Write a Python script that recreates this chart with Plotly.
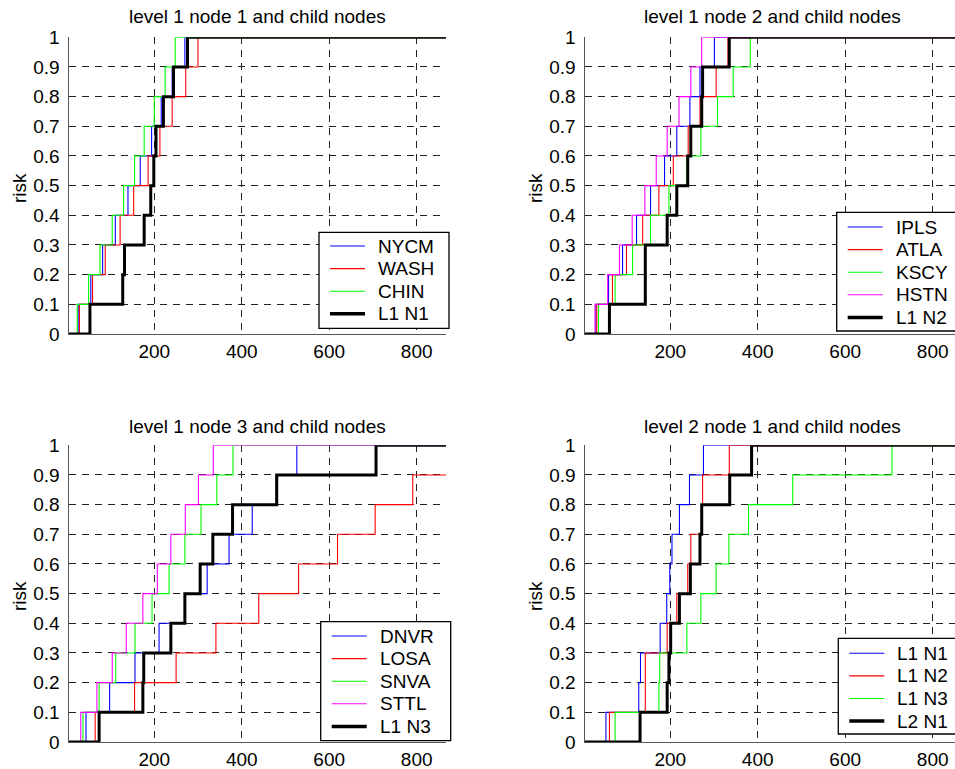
import plotly.graph_objects as go

# ---------------- data ----------------
LEVELS = [0.1, 0.2, 0.3, 0.4, 0.5, 0.6, 0.7, 0.8, 0.9, 1.0]
X_MIN = 4
X_MAX = 867

# x value at which each curve steps up to the next risk level (0.1 ... 1.0)
NYCM = [26, 55, 82, 111, 140, 168, 194, 216, 241, 270]
WASH = [29, 59, 88, 122, 153, 186, 213, 241, 272, 300]
CHIN = [24, 50, 76, 104, 130, 155, 177, 200, 225, 248]
L1N1 = [53, 128, 132, 177, 192, 199, 204, 221, 244, 276]

IPLS = [30, 59, 91, 123, 155, 187, 215, 245, 268, 301]
ATLA = [32, 68, 100, 137, 174, 207, 241, 268, 305, 332]
KSCY = [36, 74, 114, 155, 197, 238, 270, 308, 344, 383]
HSTN = [28, 57, 84, 113, 142, 168, 193, 220, 247, 272]
L1N2 = [61, 143, 143, 193, 215, 240, 247, 272, 274, 335]

DNVR = [44, 98, 156, 211, 270, 321, 371, 424, 479, 526]
LOSA = [65, 155, 250, 341, 439, 530, 619, 705, 791]
SNVA = [37, 74, 112, 156, 195, 234, 270, 307, 343, 380]
STTL = [32, 69, 104, 136, 174, 207, 238, 271, 301, 335]
L1N3 = [74, 174, 176, 238, 270, 305, 334, 379, 480, 707]

L2N1 = [131, 193, 197, 201, 221, 246, 268, 272, 336, 386]

Y_TICKS = [0, 0.1, 0.2, 0.3, 0.4, 0.5, 0.6, 0.7, 0.8, 0.9, 1]
Y_TICK_TEXT = ["0", "0.1", "0.2", "0.3", "0.4", "0.5", "0.6", "0.7", "0.8", "0.9", "1"]
X_TICKS = [200, 400, 600, 800]
X_TICK_TEXT = ["200", "400", "600", "800"]

TITLES = ["level 1 node 1 and child nodes", "level 1 node 2 and child nodes",
          "level 1 node 3 and child nodes", "level 2 node 1 and child nodes"]

PANELS = [
    [("NYCM", NYCM, "#0000ff"), ("WASH", WASH, "#ff0000"), ("CHIN", CHIN, "#00ff00"),
     ("L1 N1", L1N1, "#000000")],
    [("IPLS", IPLS, "#0000ff"), ("ATLA", ATLA, "#ff0000"), ("KSCY", KSCY, "#00ff00"),
     ("HSTN", HSTN, "#ff00ff"), ("L1 N2", L1N2, "#000000")],
    [("DNVR", DNVR, "#0000ff"), ("LOSA", LOSA, "#ff0000"), ("SNVA", SNVA, "#00ff00"),
     ("STTL", STTL, "#ff00ff"), ("L1 N3", L1N3, "#000000")],
    [("L1 N1", L1N1, "#0000ff"), ("L1 N2", L1N2, "#ff0000"), ("L1 N3", L1N3, "#00ff00"),
     ("L2 N1", L2N1, "#000000")],
]

# ---------------- layout geometry (pixels) ----------------
W, H = 955, 769
FONT = "Liberation Sans, Arial, Helvetica, sans-serif"
FS = 19

# plot areas: (left, right, top, bottom) in px
AREAS = [(68.5, 446.0, 37.3, 334.0), (584.5, 955.0, 37.3, 334.0),
         (68.5, 446.0, 445.3, 742.0), (584.5, 955.0, 445.3, 742.0)]
X_RANGES = [[X_MIN, X_MAX], [X_MIN, X_MIN + (955.0 - 584.5) / 0.4374],
            [X_MIN, X_MAX], [X_MIN, X_MIN + (955.0 - 584.5) / 0.4374]]
TITLE_X = [257, 772, 257, 772]
TITLE_Y = [16.5, 16.5, 426, 426]
RISK_X = [19, 535, 19, 535]
RISK_Y = [188, 188, 596, 596]
# legend boxes: (left, top, bottom, first-entry centre) in px
LEG_BOX = [(319, 232.3, 328.3, 246.0), (836.7, 212.3, 331.0, 227.0),
           (320.7, 621.7, 740.7, 636.0), (838.3, 638.3, 734.0, 653.3)]
LEG_W = 130
LEG_STEP = 22.6

fig = go.Figure()

for i, series in enumerate(PANELS):
    sfx = "" if i == 0 else str(i + 1)
    for name, steps, color in series:
        xs = [X_MIN] + list(steps) + [X_MAX]
        ys = [0] + LEVELS[:len(steps)] + [LEVELS[len(steps) - 1]]
        fig.add_trace(go.Scatter(
            x=xs, y=ys, mode="lines", name=name, showlegend=False,
            line=dict(color=color, width=3 if color == "#000000" else 1.1, shape="hv"),
            xaxis="x" + sfx, yaxis="y" + sfx, hoverinfo="skip"))

layout = dict(
    width=W, height=H, autosize=False,
    margin=dict(l=0, r=0, t=0, b=0, pad=0),
    paper_bgcolor="white", plot_bgcolor="white",
    font=dict(family=FONT, size=FS, color="black"),
    showlegend=False,
)

annotations = []
shapes = []
for i in range(4):
    sfx = "" if i == 0 else str(i + 1)
    l, r, t, b = AREAS[i]
    layout["xaxis" + sfx] = dict(
        domain=[l / W, r / W], range=X_RANGES[i], anchor="y" + sfx,
        tickmode="array", tickvals=X_TICKS, ticktext=X_TICK_TEXT,
        showgrid=True, gridcolor="#222222", gridwidth=1, griddash="7px,6px",
        showline=True, linecolor="#555555", linewidth=1,
        ticks="", ticklen=0, zeroline=False, ticklabelstandoff=0, automargin=False,
        tickfont=dict(family=FONT, size=FS, color="black"))
    layout["yaxis" + sfx] = dict(
        domain=[1 - b / H, 1 - t / H], range=[0, 1], anchor="x" + sfx,
        tickmode="array", tickvals=Y_TICKS, ticktext=Y_TICK_TEXT,
        showgrid=True, gridcolor="#222222", gridwidth=1, griddash="7px,6px",
        showline=True, linecolor="#555555", linewidth=1,
        ticks="", ticklen=0, zeroline=False, ticklabelstandoff=4, automargin=False,
        tickfont=dict(family=FONT, size=FS, color="black"))

    annotations.append(dict(
        text=TITLES[i], x=TITLE_X[i] / W, y=1 - TITLE_Y[i] / H,
        xref="paper", yref="paper", xanchor="center", yanchor="middle",
        showarrow=False, font=dict(family=FONT, size=FS, color="black")))
    annotations.append(dict(
        text="risk", x=RISK_X[i] / W, y=1 - RISK_Y[i] / H, textangle=-90,
        xref="paper", yref="paper", xanchor="center", yanchor="middle",
        showarrow=False, font=dict(family=FONT, size=FS, color="black")))

    # legend (box, line samples, labels)
    bx, btop, bbot, first = LEG_BOX[i]
    shapes.append(dict(
        type="rect", xref="paper", yref="paper", layer="above",
        x0=bx / W, x1=(bx + LEG_W) / W, y0=1 - bbot / H, y1=1 - btop / H,
        fillcolor="white", line=dict(color="black", width=1.3)))
    for k, (name, steps, color) in enumerate(PANELS[i]):
        yc = first + k * LEG_STEP
        shapes.append(dict(
            type="line", xref="paper", yref="paper", layer="above",
            x0=(bx + 11) / W, x1=(bx + 46) / W, y0=1 - yc / H, y1=1 - yc / H,
            line=dict(color=color, width=3.5 if color == "#000000" else 1.1)))
        annotations.append(dict(
            text=name, x=(bx + 57) / W, y=1 - yc / H,
            xref="paper", yref="paper", xanchor="left", yanchor="middle",
            showarrow=False, font=dict(family=FONT, size=FS, color="black")))

layout["annotations"] = annotations
layout["shapes"] = shapes
fig.update_layout(**layout)
fig.write_html("out.html")
